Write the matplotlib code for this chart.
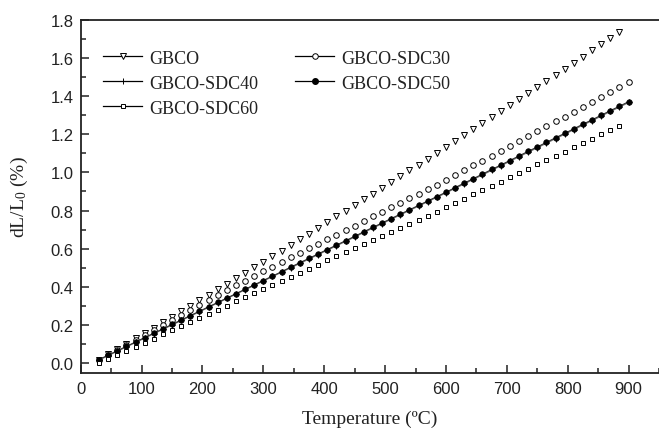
import matplotlib
matplotlib.use("Agg")
import matplotlib.pyplot as plt
from matplotlib.lines import Line2D

# temperature grid (degC)
temps = [30, 45, 60, 75, 90, 105, 120, 135, 150, 165, 180, 195, 210, 225, 240,
         255, 270, 285, 300, 315, 330, 345, 360, 375, 390, 405, 420, 435, 450,
         465, 480, 495, 510, 525, 540, 555, 570, 585, 600, 615, 630, 645, 660,
         675, 690, 705, 720, 735, 750, 765, 780, 795, 810, 825, 840, 855, 870,
         885, 900]

# dL/L0 (%)
gbco = [0.020, 0.048, 0.076, 0.104, 0.132, 0.160, 0.188, 0.216, 0.245, 0.273,
        0.302, 0.330, 0.359, 0.388, 0.417, 0.445, 0.474, 0.504, 0.533, 0.562,
        0.591, 0.621, 0.650, 0.680, 0.710, 0.739, 0.769, 0.799, 0.829, 0.859,
        0.889, 0.920, 0.950, 0.980, 1.011, 1.041, 1.072, 1.103, 1.134, 1.165,
        1.196, 1.227, 1.258, 1.289, 1.320, 1.352, 1.383, 1.415, 1.446, 1.478,
        1.510, 1.542, 1.574, 1.606, 1.638, 1.670, 1.702, 1.735]
sdc30 = [0.020, 0.046, 0.072, 0.098, 0.123, 0.149, 0.175, 0.201, 0.227, 0.253,
         0.279, 0.304, 0.330, 0.356, 0.382, 0.408, 0.434, 0.460, 0.483, 0.507,
         0.531, 0.555, 0.578, 0.602, 0.626, 0.650, 0.674, 0.698, 0.721, 0.745,
         0.769, 0.793, 0.817, 0.840, 0.864, 0.888, 0.912, 0.936, 0.960, 0.986,
         1.011, 1.037, 1.062, 1.088, 1.113, 1.139, 1.164, 1.190, 1.216, 1.241,
         1.267, 1.292, 1.318, 1.343, 1.369, 1.394, 1.420, 1.445, 1.471]
sdc40 = [0.018, 0.041, 0.064, 0.087, 0.110, 0.133, 0.156, 0.179, 0.202, 0.225,
         0.248, 0.271, 0.294, 0.317, 0.340, 0.363, 0.386, 0.409, 0.432, 0.455,
         0.478, 0.501, 0.524, 0.547, 0.570, 0.593, 0.616, 0.639, 0.662, 0.686,
         0.709, 0.732, 0.755, 0.778, 0.801, 0.824, 0.847, 0.870, 0.893, 0.917,
         0.940, 0.964, 0.987, 1.011, 1.035, 1.058, 1.082, 1.106, 1.129, 1.153,
         1.177, 1.200, 1.224, 1.248, 1.271, 1.295, 1.319, 1.342, 1.366]
sdc50 = [0.020, 0.043, 0.066, 0.089, 0.112, 0.135, 0.158, 0.181, 0.204, 0.227,
         0.250, 0.273, 0.296, 0.319, 0.342, 0.365, 0.388, 0.411, 0.434, 0.457,
         0.480, 0.504, 0.527, 0.550, 0.573, 0.596, 0.619, 0.642, 0.665, 0.689,
         0.712, 0.735, 0.758, 0.781, 0.804, 0.827, 0.850, 0.873, 0.896, 0.920,
         0.944, 0.967, 0.991, 1.015, 1.038, 1.062, 1.086, 1.110, 1.133, 1.157,
         1.181, 1.204, 1.228, 1.252, 1.275, 1.299, 1.323, 1.346, 1.370]
sdc60 = [0.000, 0.022, 0.043, 0.065, 0.087, 0.108, 0.130, 0.152, 0.173, 0.195,
         0.216, 0.238, 0.260, 0.281, 0.303, 0.325, 0.346, 0.368, 0.389, 0.411,
         0.432, 0.453, 0.475, 0.496, 0.517, 0.539, 0.560, 0.581, 0.603, 0.624,
         0.645, 0.667, 0.688, 0.709, 0.731, 0.752, 0.773, 0.795, 0.817, 0.840,
         0.862, 0.885, 0.907, 0.930, 0.952, 0.974, 0.997, 1.019, 1.042, 1.064,
         1.087, 1.109, 1.132, 1.154, 1.177, 1.199, 1.222, 1.244]

labels = ["GBCO", "GBCO-SDC30", "GBCO-SDC40", "GBCO-SDC50", "GBCO-SDC60"]

plt.rcParams["mathtext.fontset"] = "custom"
plt.rcParams["mathtext.rm"] = "Liberation Serif"
plt.rcParams["mathtext.default"] = "regular"

serif = "Liberation Serif"
ink = "#222222"

fig = plt.figure(figsize=(6.59, 4.31), dpi=100)
ax = fig.add_axes([0.1225, 0.1323, 0.8775, 0.8201])

ms = 4.0
mew = 0.7
ax.plot(temps[:len(gbco)], gbco, ls="none", marker="v", ms=ms, mew=mew,
        mfc="white", mec="black")
ax.plot(temps[:len(sdc30)], sdc30, ls="none", marker="o", ms=ms, mew=mew,
        mfc="white", mec="black")
ax.plot(temps[:len(sdc40)], sdc40, ls="-", lw=1.0, color="#777777",
        marker="+", ms=ms, mew=mew, mec="black")
ax.plot(temps[:len(sdc50)], sdc50, ls="-", lw=0.8, color="#333333",
        marker="o", ms=ms, mew=0.5, mfc="black", mec="black")
ax.plot(temps[:len(sdc60)], sdc60, ls="none", marker="s", ms=ms - 0.6, mew=mew,
        mfc="white", mec="black")

ax.set_xlim(0, 940)
ax.set_ylim(-0.05, 1.8)
ax.set_xticks(range(0, 901, 100))
ax.set_xticks(range(50, 951, 100), minor=True)
ax.set_yticks([i / 10 for i in range(0, 19, 2)])
ax.set_yticks([i / 10 for i in range(1, 18, 2)], minor=True)
ax.yaxis.set_major_formatter(matplotlib.ticker.FormatStrFormatter("%.1f"))

ax.spines["right"].set_visible(False)
for s in ["left", "bottom", "top"]:
    ax.spines[s].set_linewidth(1.3)
    ax.spines[s].set_color(ink)

ax.tick_params(which="both", direction="in", top=False, right=False, color=ink,
               labelcolor=ink, labelsize=12, width=1.1)
ax.tick_params(which="major", length=6)
ax.tick_params(which="minor", length=3.5)
ax.tick_params(axis="x", pad=6)
ax.tick_params(axis="y", pad=5)
for lab in ax.get_xticklabels() + ax.get_yticklabels():
    lab.set_fontfamily("Liberation Sans")

ax.set_xlabel("Temperature (ºC)", family=serif, fontsize=14, color=ink)
ax.set_ylabel("dL/L$_0$ (%)", family=serif, fontsize=14, color=ink)
ax.xaxis.set_label_coords(0.5, -0.103)
ax.yaxis.set_label_coords(-0.088, 0.5)

handles = [
    Line2D([], [], color="black", lw=0.9, marker="v", ms=ms, mfc="white", mec="black", mew=mew),
    Line2D([], [], color="black", lw=0.9, marker="o", ms=ms, mfc="white", mec="black", mew=mew),
    Line2D([], [], color="black", lw=0.9, marker="+", ms=ms, mec="black", mew=mew),
    Line2D([], [], color="black", lw=0.9, marker="o", ms=ms, mfc="black", mec="black"),
    Line2D([], [], color="black", lw=0.9, marker="s", ms=ms - 0.6, mfc="white", mec="black", mew=mew),
]
order = [0, 2, 4, 1, 3]
leg = ax.legend([handles[i] for i in order], [labels[i] for i in order],
                ncol=2, frameon=False, loc="upper left",
                bbox_to_anchor=(0.038, 0.915), borderaxespad=0, borderpad=0,
                prop={"family": serif, "size": 13}, handlelength=2.2,
                handletextpad=0.4, columnspacing=2.0, labelspacing=0.45)
for t in leg.get_texts():
    t.set_color(ink)

fig.savefig("out.png", dpi=100)
